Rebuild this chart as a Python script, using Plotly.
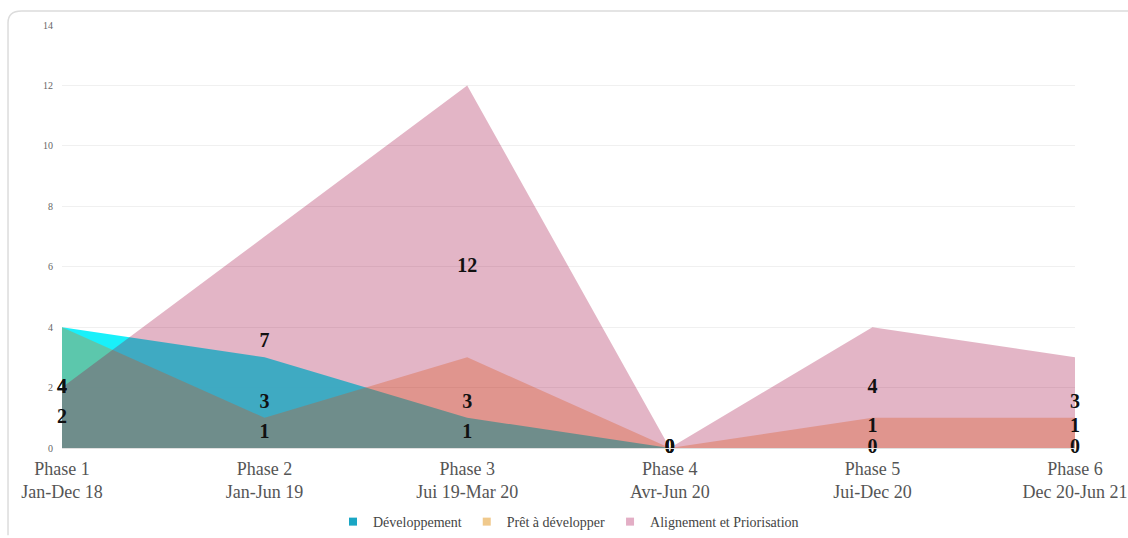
import plotly.graph_objects as go

# === Data ===
phases = ["Phase 1<br>Jan-Dec 18", "Phase 2<br>Jan-Jun 19", "Phase 3<br>Jui 19-Mar 20",
          "Phase 4<br>Avr-Jun 20", "Phase 5<br>Jui-Dec 20", "Phase 6<br>Dec 20-Jun 21"]
developpement = [4, 3, 1, 0, 0, 0]
pret = [4, 1, 3, 0, 1, 1]
alignement = [2, 7, 12, 0, 4, 3]
y_ticks = [0, 2, 4, 6, 8, 10, 12, 14]

x = list(range(len(phases)))
serif = "Liberation Serif"

series = [
    ("Développement", developpement, "rgba(0,238,249,0.9)", "#1aa6c4"),
    ("Prêt à développer", pret, "rgba(242,110,0,0.31)", "#f0c98c"),
    ("Alignement et Priorisation", alignement, "rgba(158,0,58,0.29)", "#e3aec5"),
]

# === Label positions: middle of each area, nudged apart when too close ===
min_gap = 0.7
label_y = {name: [v / 2 for v in vals] for name, vals, _, _ in series}
for i in range(len(x)):
    items = sorted(((label_y[n][i], vals[i], n) for n, vals, _, _ in series))
    prev_y, prev_v = None, None
    for y, v, n in items:
        if prev_y is not None and v != prev_v and y - prev_y < min_gap:
            y = prev_y + min_gap
            label_y[n][i] = y
        prev_y, prev_v = y, v

fig = go.Figure()

# Overlapping areas (not stacked)
for name, vals, fill, legend_col in series:
    fig.add_trace(go.Scatter(
        x=x, y=vals, name=name,
        mode="none", fill="tozeroy", fillcolor=fill,
        hoverinfo="skip", showlegend=False,
    ))

# Legend entries with small square swatches
for name, vals, fill, legend_col in series:
    fig.add_trace(go.Scatter(
        x=[None], y=[None], name=name, mode="markers",
        marker=dict(symbol="square", size=8, color=legend_col),
    ))

# Value labels
for name, vals, fill, legend_col in series:
    fig.add_trace(go.Scatter(
        x=x, y=label_y[name],
        mode="text", text=[str(v) for v in vals],
        textfont=dict(family=serif, size=20, color="#111", weight="bold"),
        textposition="middle center", cliponaxis=False,
        showlegend=False, hoverinfo="skip",
    ))

# Card border (left + top, rounded corner)
fig.add_shape(
    type="path", xref="paper", yref="paper",
    path="M -0.0533,-0.206 L -0.0533,1.005 Q -0.0533,1.033 -0.04,1.033 L 1.06,1.033",
    line=dict(color="#dcdcdc", width=1.5),
)

fig.update_layout(
    width=1128, height=538,
    plot_bgcolor="white", paper_bgcolor="white",
    margin=dict(l=62, r=53, t=25, b=90, autoexpand=False),
    font=dict(family=serif, color="#444"),
    legend=dict(
        orientation="h", x=0.5, xanchor="center", y=-0.175, yanchor="middle",
        font=dict(family=serif, size=14, color="#444"),
        itemwidth=30,
    ),
)

fig.update_xaxes(
    tickvals=x, ticktext=phases, range=[0, 5],
    tickfont=dict(family=serif, size=18, color="#555"),
    showgrid=False, zeroline=False,
    showline=True, linecolor="#e0e0e0",
    ticklabelstandoff=4,
)
fig.update_yaxes(
    range=[0, 14], tickvals=y_ticks,
    tickfont=dict(family=serif, size=10, color="#666"),
    showgrid=True, gridcolor="#f0f0f0", zeroline=False,
    ticklabelstandoff=8,
)

fig.write_html("out.html", config={"displayModeBar": False},
               post_script="document.body.style.margin='0';")
